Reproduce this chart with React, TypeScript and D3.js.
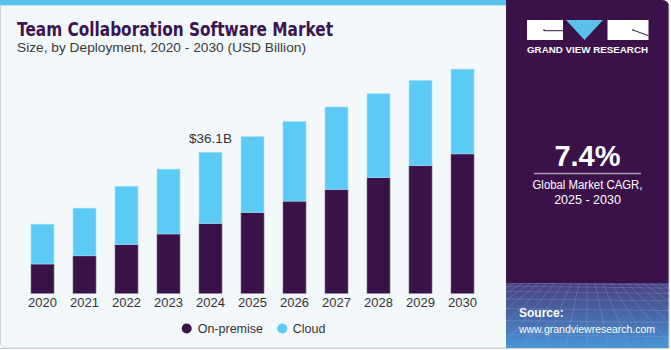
import React from "react";
import * as d3 from "d3";

const years = ["2020", "2021", "2022", "2023", "2024", "2025", "2026", "2027", "2028", "2029", "2030"];
const onPremise = [7.5, 9.6, 12.5, 15.2, 17.9, 20.7, 23.6, 26.6, 29.6, 32.7, 35.7];
const cloud = [10.2, 12.2, 14.9, 16.6, 18.2, 19.4, 20.4, 21.1, 21.5, 21.8, 21.7];
const seriesNames = ["On-premise", "Cloud"];
const annotationYear = "2024";
const annotationLabel = "$36.1B";

const W = 671;
const H = 350;
const PURPLE = "#3A1249";
const BLUE = "#5BCBF5";
const FONT = "'Liberation Sans', Arial, sans-serif";

export default function App() {
  const x = d3.scaleBand<string>().domain(years).range([21.5, 483.5]).paddingInner(0.452).paddingOuter(0.226);
  const y = d3.scaleLinear().domain([0, 60]).range([293.3, 293.3 - 60 * 3.906]);

  const rows = years.map((yr, i) => ({ year: yr, onPremise: onPremise[i], cloud: cloud[i] }));
  const stack = d3.stack<any>().keys(["onPremise", "cloud"])(rows);
  const colors = [PURPLE, BLUE];

  const annIdx = years.indexOf(annotationYear);
  const annTotal = onPremise[annIdx] + cloud[annIdx];

  // decorative grid lines for source area
  const gridH = d3.range(0, 8).map((i) => 283 + i * i * 1.1 + i * 2);
  const gridV = d3.range(-12, 13).map((i) => i);

  return (
    <svg width={W} height={H} style={{ position: "absolute", left: 0, top: 0 }} fontFamily={FONT}>
      <defs>
        <linearGradient id="srcGrad" x1="0" y1="0" x2="0" y2="1">
          <stop offset="0" stopColor="#4B3F7E" />
          <stop offset="0.5" stopColor="#4868A8" />
          <stop offset="1" stopColor="#4A96D6" />
        </linearGradient>
        <linearGradient id="panelGrad" x1="0" y1="0" x2="0" y2="1">
          <stop offset="0" stopColor="#3A1249" />
          <stop offset="0.85" stopColor="#3A1249" />
          <stop offset="1" stopColor="#3F1A5C" />
        </linearGradient>
        <clipPath id="srcClip">
          <rect x={506} y={283} width={163} height={65} />
        </clipPath>
      </defs>

      {/* left panel */}
      <rect x={0.5} y={0} width={510} height={348} rx={5} fill="#F3F8FB" stroke="#CDD3D8" strokeWidth={1} />
      <rect x={0} y={0} width={506} height={5} fill="#5BC0EB" />
      <rect x={0} y={5} width={506} height={1} fill="#BDE6F7" />

      {/* right panel */}
      <path d="M506,0 H662 Q669,0 669,7 V348 H506 Z" fill="url(#panelGrad)" />
      <rect x={506} y={283} width={163} height={65} fill="url(#srcGrad)" />
      <g clipPath="url(#srcClip)" stroke="#8FB4E6" strokeOpacity={0.35} strokeWidth={0.8}>
        {gridH.map((gy, i) => (
          <line key={"h" + i} x1={506} x2={669} y1={gy} y2={gy + 2} />
        ))}
        {gridV.map((i) => (
          <line key={"v" + i} x1={587 + i * 8} y1={283} x2={587 + i * 22} y2={350} />
        ))}
      </g>
      <line x1={669} y1={6} x2={669} y2={348} stroke="#C9CED3" strokeWidth={1} />
      <line x1={0} y1={348.5} x2={669} y2={348.5} stroke="#CDD3D8" strokeWidth={1} />

      {/* logo */}
      <rect x={527} y={20} width={36} height={20} fill="#FFFFFF" />
      <path d="M544,29 V31 M544,30.7 H563" stroke={PURPLE} strokeWidth={1} fill="none" />
      <path d="M566,20 H603 L584.5,40 Z" fill="#5BC0EB" />
      <rect x={607.5} y={20} width={41} height={20} fill="#FFFFFF" />
      <path d="M633,29 V31 M633,30 L648.5,35.7" stroke={PURPLE} strokeWidth={1} fill="none" />
      <text x={587.5} y={53} textAnchor="middle" fill="#FFFFFF" fontSize={8.5} fontWeight="bold" textLength={121} lengthAdjust="spacingAndGlyphs">
        GRAND VIEW RESEARCH
      </text>

      {/* CAGR */}
      <text x={587.5} y={165.5} textAnchor="middle" fill="#FFFFFF" fontSize={29} fontWeight="bold">
        7.4%
      </text>
      <line x1={534} x2={641} y1={173.5} y2={173.5} stroke="#A99BB6" strokeWidth={1.3} />
      <text x={587.5} y={189} textAnchor="middle" fill="#FFFFFF" fontSize={12.5} textLength={110} lengthAdjust="spacingAndGlyphs">
        Global Market CAGR,
      </text>
      <text x={587.5} y={204} textAnchor="middle" fill="#FFFFFF" fontSize={12.5}>
        2025 - 2030
      </text>

      {/* source */}
      <text x={519} y={317} fill="#FFFFFF" fontSize={12} fontWeight="bold">
        Source:
      </text>
      <text x={519} y={332.5} fill="#FFFFFF" fontSize={11.5} textLength={136} lengthAdjust="spacingAndGlyphs">
        www.grandviewresearch.com
      </text>

      {/* title */}
      <text x={17} y={36} fill="#3B1450" fontSize={20} fontWeight="bold" fontFamily="'DejaVu Sans', sans-serif" textLength={316} lengthAdjust="spacingAndGlyphs">
        Team Collaboration Software Market
      </text>
      <text x={17} y={52} fill="#3A3A3A" fontSize={13.5} textLength={289} lengthAdjust="spacingAndGlyphs">
        Size, by Deployment, 2020 - 2030 (USD Billion)
      </text>

      {/* bars */}
      {stack.map((s, si) => (
        <g key={si} fill={colors[si]}>
          {s.map((d: any, i: number) => (
            <rect
              key={i}
              x={x(d.data.year)}
              y={y(d[1])}
              width={x.bandwidth()}
              height={y(d[0]) - y(d[1])}
              stroke={si === 0 ? "#7E6C8E" : "#A6E2FA"}
              strokeWidth={0.6}
            />
          ))}
        </g>
      ))}

      {/* annotation */}
      <text x={(x(annotationYear) as number) + x.bandwidth() / 2} y={y(annTotal) - 9.5} textAnchor="middle" fill="#333333" fontSize={13.5}>
        {annotationLabel}
      </text>

      {/* x labels */}
      {years.map((yr) => (
        <text key={yr} x={(x(yr) as number) + x.bandwidth() / 2} y={307} textAnchor="middle" fill="#333333" fontSize={13}>
          {yr}
        </text>
      ))}

      {/* legend */}
      <circle cx={186.7} cy={328.5} r={5} fill={PURPLE} />
      <text x={197.7} y={332.5} fill="#333333" fontSize={12.5}>
        {seriesNames[0]}
      </text>
      <circle cx={282.3} cy={328.5} r={5} fill={BLUE} />
      <text x={292.7} y={332.5} fill="#333333" fontSize={12.5}>
        {seriesNames[1]}
      </text>
    </svg>
  );
}
